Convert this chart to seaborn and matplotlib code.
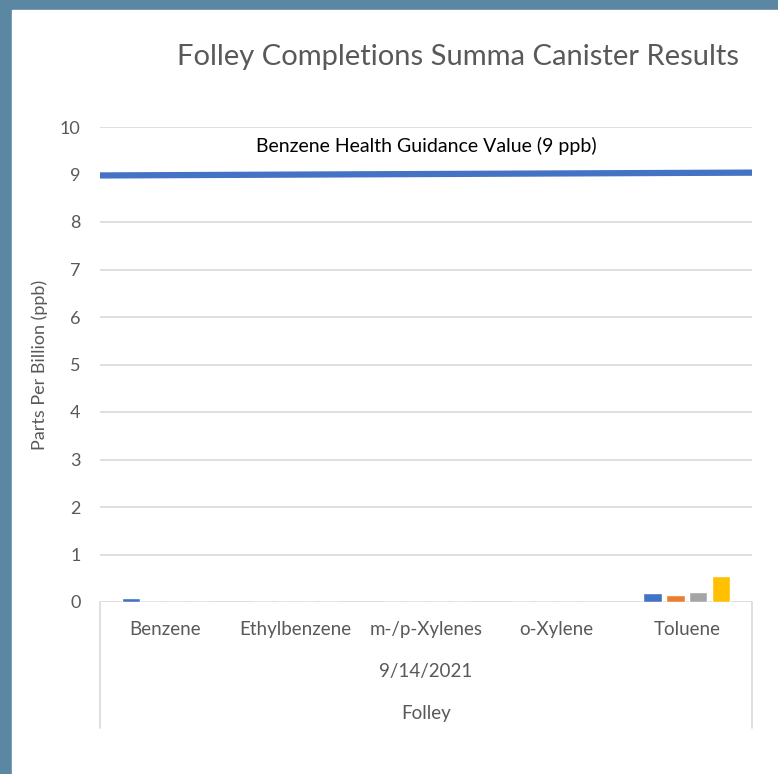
import matplotlib.pyplot as plt
import pandas as pd
import seaborn as sns

categories = ["Benzene", "Ethylbenzene", "m-/p-Xylenes", "o-Xylene", "Toluene"]
series_names = ["Sample 1", "Sample 2", "Sample 3", "Sample 4"]
sample_1 = [0.09, 0.0, 0.0, 0.0, 0.19]
sample_2 = [0.0, 0.0, 0.0, 0.0, 0.15]
sample_3 = [0.0, 0.0, 0.0, 0.0, 0.22]
sample_4 = [0.0, 0.0, 0.0, 0.0, 0.55]
guidance_values = [8.98, 9.04]
y_ticks = [0, 1, 2, 3, 4, 5, 6, 7, 8, 9, 10]

colors = ["#4472C4", "#ED7D31", "#A5A5A5", "#FFC000"]
grey = "#595959"

rows = []
for name, vals in zip(series_names, [sample_1, sample_2, sample_3, sample_4]):
    for cat, v in zip(categories, vals):
        rows.append({"compound": cat, "sample": name, "ppb": v})
df = pd.DataFrame(rows)

sns.set_style("white")
plt.rcParams["font.family"] = ["Lato", "DejaVu Sans"]

fig = plt.figure(figsize=(7.78, 7.74), dpi=100, facecolor="#5B87A2")
# white chart panel inset from left and top
fig.patches.append(plt.Rectangle((12 / 778, 0), 1, 1 - 10 / 774,
                                 transform=fig.transFigure, color="white", zorder=-5))

ax = fig.add_axes([100 / 778, 1 - 602 / 774, 652 / 778, 475 / 774])
ax.set_facecolor("none")

sns.barplot(data=df, x="compound", y="ppb", hue="sample", order=categories,
            palette=colors, saturation=1, width=0.7, gap=0.2, legend=False,
            ax=ax, zorder=3)

# guidance line across the full plot width
ax.plot([-0.5, 4.5], guidance_values, color="#4472C4", lw=4.5,
        solid_capstyle="butt", clip_on=False, zorder=4)
ax.text(2.0, 9.6, "Benzene Health Guidance Value (9 ppb)", ha="center", va="center",
        fontsize=14, color="black")

ax.set_xlim(-0.5, 4.5)
ax.set_ylim(0, 10)
ax.set_yticks(y_ticks)
ax.grid(axis="y", color="#D9D9D9", lw=1.2, zorder=0)
for s in ax.spines.values():
    s.set_visible(False)
ax.tick_params(axis="y", length=0, labelsize=13, labelcolor=grey, pad=14)
ax.tick_params(axis="x", length=0, labelsize=13.5, labelcolor=grey, pad=14)
ax.set_xlabel("")
ax.set_ylabel("Parts Per Billion (ppb)", fontsize=13, color=grey)
ax.yaxis.set_label_coords(-52 / 652, 0.5)

# multi-level category box below the axis
for x in (0, 1):
    ax.plot([x, x], [0, -126 / 475], transform=ax.transAxes, color="#D9D9D9",
            lw=1.2, clip_on=False)
ax.text(0.5, -70 / 475, "9/14/2021", transform=ax.transAxes, ha="center",
        va="center", fontsize=13.5, color=grey)
ax.text(0.5, -111 / 475, "Folley", transform=ax.transAxes, ha="center",
        va="center", fontsize=13.5, color=grey)

fig.text(458 / 778, 1 - 57 / 774, "Folley Completions Summa Canister Results",
         ha="center", va="center", fontsize=21, color=grey)

fig.savefig("out.png", dpi=100, facecolor=fig.get_facecolor())
